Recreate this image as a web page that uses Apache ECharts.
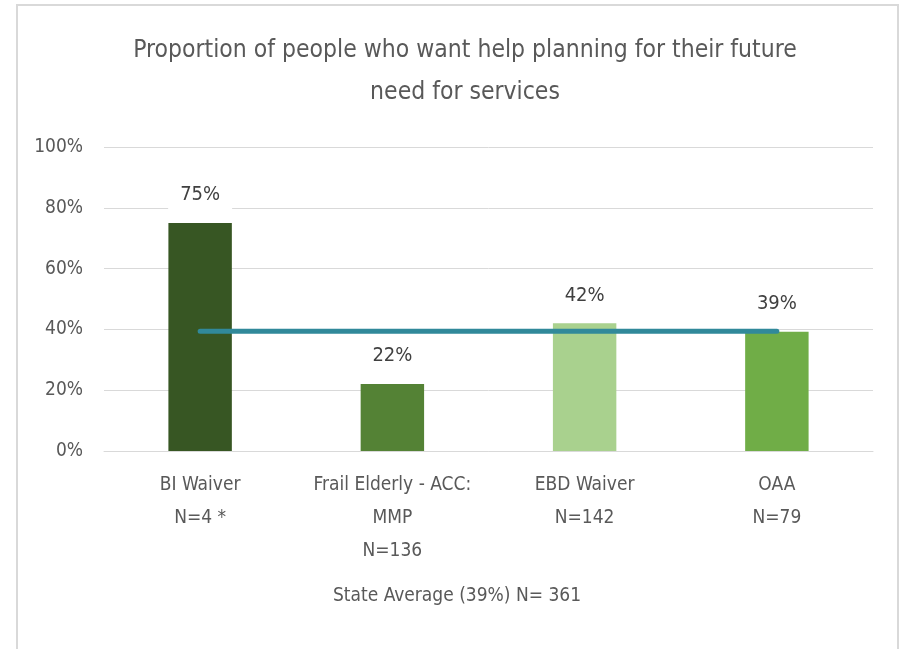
<!DOCTYPE html>
<html>
<head>
<meta charset="utf-8">
<script src="https://cdn.jsdelivr.net/npm/echarts@6/dist/echarts.min.js"></script>
<style>
  html, body { margin: 0; padding: 0; background: #ffffff; }
  #wrap { position: relative; width: 905px; height: 649px; overflow: hidden; }
  #frame { position: absolute; left: 16px; top: 4px; width: 883px; height: 700px;
           border: 2px solid #d9d9d9; background: #ffffff; box-sizing: border-box; }
  #chart { position: absolute; left: 0; top: 0; width: 905px; height: 649px; }
</style>
</head>
<body>
<div id="wrap">
  <div id="frame"></div>
  <div id="chart"></div>
</div>
<script>
// Program groups and respondent counts
const categories = ['BI Waiver\nN=4 *', 'Frail Elderly - ACC:\nMMP\nN=136', 'EBD Waiver\nN=142', 'OAA\nN=79'];
// Share of people who want help planning for future service needs
const values = [0.75, 0.22, 0.42, 0.392];
const barColors = ['#375623', '#548235', '#a9d18e', '#70ad47'];
// State average across all programs
const stateAverage = 0.394;
const stateAverageLabel = 'State Average (39%) N= 361';
const titleText = 'Proportion of people who want help planning for their future\nneed for services';

const FONT = "'Liberation Sans Narrow', 'DejaVu Sans Condensed', sans-serif";
const chart = echarts.init(document.getElementById('chart'), null, { renderer: 'canvas' });

chart.setOption({
  backgroundColor: 'transparent',
  animation: false,
  title: {
    text: titleText,
    left: 460,
    top: 25,
    textAlign: 'center',
    textStyle: { fontFamily: FONT, fontSize: 24.5, fontWeight: 'normal', color: '#595959', lineHeight: 42 }
  },
  grid: { left: 104, right: 32, top: 147, bottom: 198 },
  xAxis: {
    type: 'category',
    data: categories,
    axisLine: { lineStyle: { color: '#d9d9d9', width: 1 } },
    axisTick: { show: false },
    axisLabel: { fontFamily: FONT, fontSize: 19, color: '#595959', lineHeight: 33, margin: 18, interval: 0 }
  },
  yAxis: {
    type: 'value',
    min: 0,
    max: 1,
    interval: 0.2,
    axisLine: { show: false },
    axisTick: { show: false },
    splitLine: { lineStyle: { color: '#d9d9d9', width: 1 } },
    axisLabel: {
      fontFamily: FONT, fontSize: 19, color: '#595959', margin: 21,
      formatter: v => Math.round(v * 100) + '%'
    }
  },
  series: [
    {
      type: 'bar',
      barWidth: '33%',
      data: values.map((v, i) => ({ value: v, itemStyle: { color: barColors[i] } })),
      label: {
        show: true,
        position: 'top',
        distance: 10,
        fontFamily: FONT, fontSize: 20, color: '#404040',
        backgroundColor: '#ffffff',
        padding: [2, 12, 8, 12],
        formatter: p => Math.round(p.value * 100) + '%'
      },
      z: 2
    },
    {
      type: 'line',
      data: categories.map(() => stateAverage),
      symbol: 'none',
      lineStyle: { color: '#31899a', width: 5, cap: 'round' },
      z: 3
    }
  ],
  graphic: [
    {
      type: 'text',
      x: 457, y: 596,
      style: {
        text: stateAverageLabel, fontFamily: FONT, fontSize: 19, fill: '#595959',
        textAlign: 'center', textVerticalAlign: 'middle'
      }
    }
  ]
});
</script>
</body>
</html>
